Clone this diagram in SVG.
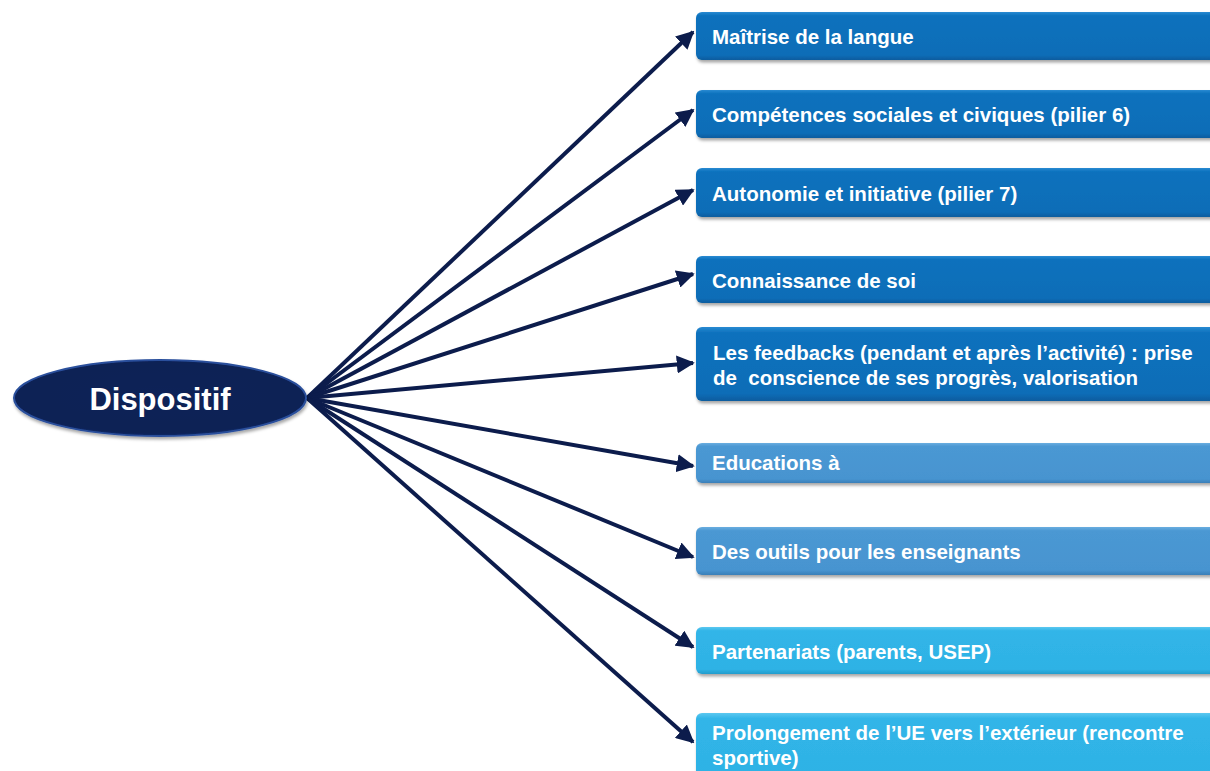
<svg xmlns="http://www.w3.org/2000/svg" width="1210" height="771" viewBox="0 0 1210 771">
<defs>
<style>
.t{font-family:"Liberation Sans",Arial,sans-serif;font-weight:bold;font-size:20.5px;fill:#ffffff}
.c{stroke:#0c1c4c;stroke-width:4;fill:none;marker-end:url(#ah)}
.b1{fill:url(#g1)}
.b2{fill:url(#g2)}
.b3{fill:url(#g3)}
</style>
<marker id="ah" viewBox="0 0 10 10" refX="9" refY="5" markerWidth="4.5" markerHeight="4.5" orient="auto" markerUnits="strokeWidth">
<path d="M0,0 L10,5 L0,10 z" fill="#0c1c4c"/>
</marker>
<linearGradient id="g1" x1="0" y1="0" x2="0" y2="1">
<stop offset="0" stop-color="#2a8ad2"/><stop offset="0.08" stop-color="#0a71bd"/><stop offset="0.9" stop-color="#0a6db7"/><stop offset="1" stop-color="#075c9e"/>
</linearGradient>
<linearGradient id="g2" x1="0" y1="0" x2="0" y2="1">
<stop offset="0" stop-color="#6aaee0"/><stop offset="0.08" stop-color="#4b98d3"/><stop offset="0.9" stop-color="#4794d0"/><stop offset="1" stop-color="#3a7fb8"/>
</linearGradient>
<linearGradient id="g3" x1="0" y1="0" x2="0" y2="1">
<stop offset="0" stop-color="#5cc8f0"/><stop offset="0.08" stop-color="#31b5e8"/><stop offset="0.9" stop-color="#2eb2e5"/><stop offset="1" stop-color="#229ccc"/>
</linearGradient>
<radialGradient id="ge" cx="0.5" cy="0.45" r="0.6">
<stop offset="0" stop-color="#0c2158"/><stop offset="0.85" stop-color="#0c2054"/><stop offset="1" stop-color="#1c3c86"/>
</radialGradient>
<filter id="sh" x="-5%" y="-20%" width="110%" height="150%">
<feDropShadow dx="1" dy="2.5" stdDeviation="1.5" flood-color="#000" flood-opacity="0.35"/>
</filter>
</defs>
<rect width="1210" height="771" fill="#ffffff"/>
<g id="connectors">
<line class="c" x1="307" y1="398" x2="693" y2="32"/>
<line class="c" x1="307" y1="398" x2="693" y2="110"/>
<line class="c" x1="307" y1="398" x2="693" y2="190"/>
<line class="c" x1="307" y1="398" x2="693" y2="274"/>
<line class="c" x1="307" y1="398" x2="693" y2="363"/>
<line class="c" x1="307" y1="398" x2="693" y2="466"/>
<line class="c" x1="307" y1="398" x2="693" y2="557"/>
<line class="c" x1="307" y1="398" x2="693" y2="647"/>
<line class="c" x1="307" y1="398" x2="693" y2="742"/>
</g>
<g id="dispositif">
<ellipse cx="160" cy="398" rx="146" ry="38" fill="url(#ge)" stroke="#2a4f9c" stroke-width="2" filter="url(#sh)"/>
<text x="160" y="410" text-anchor="middle" style="font-family:'Liberation Sans',Arial,sans-serif;font-weight:bold;font-size:31px;fill:#ffffff">Dispositif</text>
</g>
<g id="n1"><rect class="b1" x="696" y="12" width="530" height="48" rx="6" filter="url(#sh)"/><text class="t" x="712" y="44">Maîtrise de la langue</text></g>
<g id="n2"><rect class="b1" x="696" y="90" width="530" height="48" rx="6" filter="url(#sh)"/><text class="t" x="712" y="122">Compétences sociales et civiques (pilier 6)</text></g>
<g id="n3"><rect class="b1" x="696" y="168" width="530" height="49" rx="6" filter="url(#sh)"/><text class="t" x="712" y="201">Autonomie et initiative (pilier 7)</text></g>
<g id="n4"><rect class="b1" x="696" y="256" width="530" height="47" rx="6" filter="url(#sh)"/><text class="t" x="712" y="288">Connaissance de soi</text></g>
<g id="n5"><rect class="b1" x="696" y="327" width="530" height="74" rx="6" filter="url(#sh)"/><text class="t" x="713" y="360">Les feedbacks (pendant et après l’activité) : prise</text><text class="t" x="713" y="385" xml:space="preserve">de  conscience de ses progrès, valorisation</text></g>
<g id="n6"><rect class="b2" x="696" y="443" width="530" height="40" rx="6" filter="url(#sh)"/><text class="t" x="712" y="470">Educations à</text></g>
<g id="n7"><rect class="b2" x="696" y="527" width="530" height="48" rx="6" filter="url(#sh)"/><text class="t" x="712" y="559">Des outils pour les enseignants</text></g>
<g id="n8"><rect class="b3" x="696" y="627" width="530" height="47" rx="6" filter="url(#sh)"/><text class="t" x="712" y="659">Partenariats (parents, USEP)</text></g>
<g id="n9"><rect class="b3" x="696" y="713" width="530" height="70" rx="6" filter="url(#sh)"/><text class="t" x="712" y="740">Prolongement de l’UE vers l’extérieur (rencontre</text><text class="t" x="712" y="765">sportive)</text></g>
</svg>
